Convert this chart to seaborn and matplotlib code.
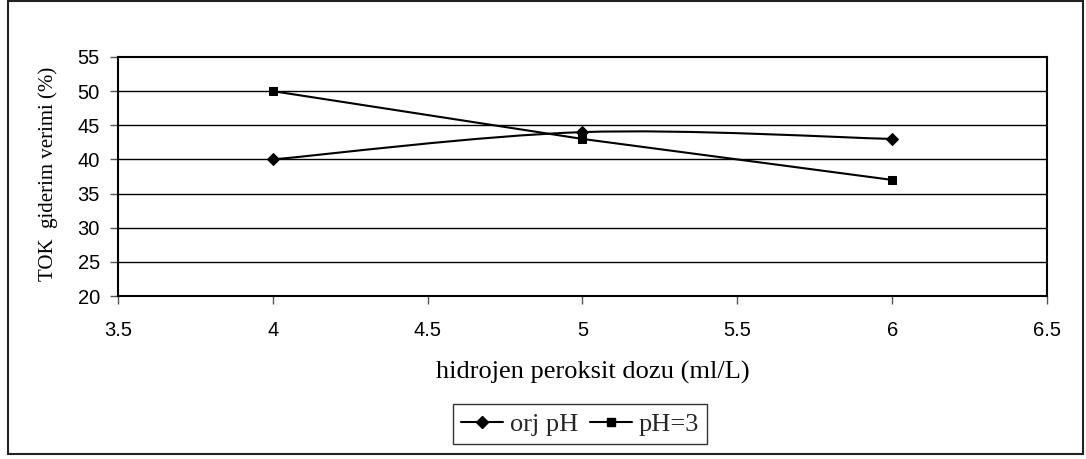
import matplotlib
matplotlib.use("Agg")
import matplotlib.pyplot as plt
import seaborn as sns
import pandas as pd
import numpy as np
from matplotlib.path import Path
from matplotlib.patches import PathPatch, Rectangle
from matplotlib.lines import Line2D

doses = [4, 5, 6]
orj_ph = [40, 44, 43]
ph3 = [50, 43, 37]
series_names = ["orj pH", "pH=3"]
x_ticks = [3.5, 4, 4.5, 5, 5.5, 6, 6.5]
y_ticks = [20, 25, 30, 35, 40, 45, 50, 55]

sns.set_theme(style="white")
plt.rcParams['font.family'] = ['Liberation Sans', 'DejaVu Sans']

W, H = 1086, 459
fig = plt.figure(figsize=(W / 100, H / 100), dpi=100)
L, R, T, B = 118, 1047, 57, 296
ax = fig.add_axes([L / W, 1 - B / H, (R - L) / W, (B - T) / H])

df = pd.DataFrame({"x": doses + doses,
                   "y": orj_ph + ph3,
                   "s": [series_names[0]] * 3 + [series_names[1]] * 3})

# pH=3 straight line with square markers
sns.lineplot(data=df[df.s == series_names[1]], x="x", y="y", ax=ax, color="black",
             lw=1.5, marker="s", markersize=6, markeredgecolor="black", legend=False, zorder=4)
# orj pH markers
sns.lineplot(data=df[df.s == series_names[0]], x="x", y="y", ax=ax, color="black",
             lw=0, marker="D", markersize=6.5, markeredgecolor="black", legend=False, zorder=4)

# smoothed curve (Excel-like) for orj pH
pts = np.column_stack([doses, orj_ph]).astype(float)
n = len(pts)
verts = [pts[0]]
codes = [Path.MOVETO]
for i in range(n - 1):
    p0 = pts[i - 1] if i > 0 else pts[i]
    p1 = pts[i]
    p2 = pts[i + 1]
    p3 = pts[i + 2] if i + 2 < n else pts[i + 1]
    c1 = p1 + (p2 - p0) / 6.0
    c2 = p2 - (p3 - p1) / 6.0
    verts += [c1, c2, p2]
    codes += [Path.CURVE4] * 3
ax.add_patch(PathPatch(Path(verts, codes), fill=False, edgecolor="black", lw=1.5, zorder=3))

ax.set_xlim(3.5, 6.5)
ax.set_ylim(20, 55)
ax.set_xticks(x_ticks)
ax.set_xticklabels([f"{v:g}" for v in x_ticks])
ax.set_yticks(y_ticks)
ax.set_yticklabels([f"{v:g}" for v in y_ticks])
for y in y_ticks[1:-1]:
    ax.axhline(y, color="black", lw=1, zorder=1)

for s in ax.spines.values():
    s.set_color("black")
    s.set_linewidth(1.5)
    s.set_visible(True)
ax.tick_params(axis="both", which="both", direction="out", length=6, width=1,
               color="#555555", labelsize=14.5, labelcolor="black",
               left=True, bottom=True)
ax.tick_params(axis="x", pad=12)
ax.tick_params(axis="y", pad=7)

serif = ['Liberation Serif', 'DejaVu Serif']
ax.set_xlabel("hidrojen peroksit dozu (ml/L)", family=serif, fontsize=19, color="black")
ax.xaxis.set_label_coords((593 - L) / (R - L), (B - 361) / (B - T))
ax.xaxis.label.set_va("top")
ax.set_ylabel("TOK  giderim verimi (%)", family=serif, fontsize=15, color="black")
ax.yaxis.set_label_coords((58 - L) / (R - L), (B - 174) / (B - T))

handles = [Line2D([], [], color="black", lw=1.5, marker="D", markersize=6.5),
           Line2D([], [], color="black", lw=1.5, marker="s", markersize=6)]
leg = fig.legend(handles, series_names, loc="center", bbox_to_anchor=(580 / W, 1 - 424 / H),
                 ncol=2, frameon=True, fancybox=False, edgecolor="black",
                 prop={"family": serif, "size": 19}, handlelength=1.6, handletextpad=0.25,
                 columnspacing=0.45, borderpad=0.3, borderaxespad=0)
leg.get_frame().set_linewidth(1.0)

fig.patches.append(Rectangle((8 / W, 1 - 454 / H), (1083 - 8) / W, (454 - 1) / H,
                             transform=fig.transFigure, fill=False, edgecolor="#222222", lw=1.5))

fig.savefig("out.png", dpi=100, facecolor="white")
